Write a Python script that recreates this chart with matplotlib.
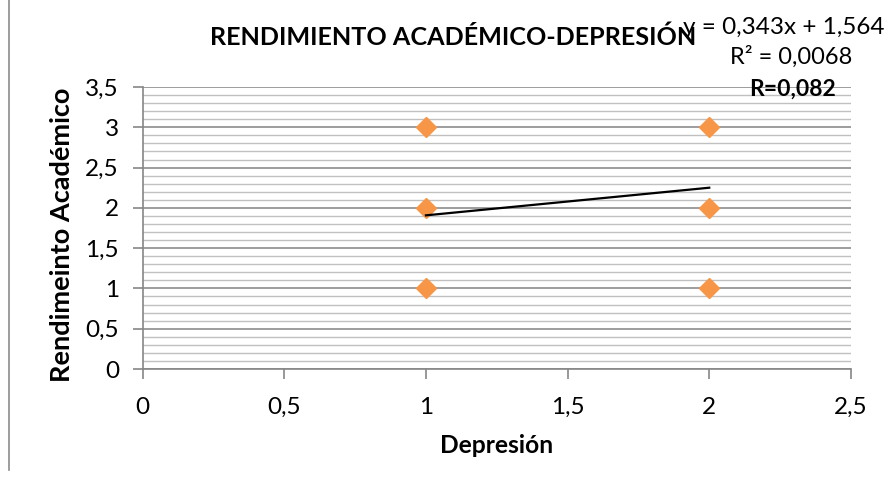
import matplotlib
matplotlib.use("Agg")
import matplotlib.pyplot as plt
from matplotlib.ticker import MultipleLocator, FuncFormatter
import numpy as np

depresion = [1, 1, 1, 2, 2, 2]
rendimiento = [1, 2, 3, 1, 2, 3]
slope = 0.343
intercept = 1.564
trend_x = [1, 2]
title = "RENDIMIENTO ACADÉMICO-DEPRESIÓN"
eq_text = "y = 0,343x + 1,564"
r2_text = "R² = 0,0068"
r_text = "R=0,082"

plt.rcParams['font.family'] = ['Lato', 'DejaVu Sans']

W, H = 887, 486
fig = plt.figure(figsize=(W/100, H/100), dpi=100)
x0, x1, y0, y1 = 142.6, 850.9, 369, 87
ax = fig.add_axes([x0/W, 1 - y0/H, (x1-x0)/W, (y0-y1)/H])

ax.set_xlim(0, 2.5)
ax.set_ylim(0, 3.5)
ax.yaxis.set_major_locator(MultipleLocator(0.5))
ax.yaxis.set_minor_locator(MultipleLocator(0.1))
ax.xaxis.set_major_locator(MultipleLocator(0.5))
fmt = FuncFormatter(lambda v, p: (f"{v:g}").replace('.', ','))
ax.xaxis.set_major_formatter(fmt)
ax.yaxis.set_major_formatter(fmt)

ax.grid(which='major', axis='y', color='#8c8c8c', lw=1.2)
ax.grid(which='minor', axis='y', color='#c0c0c0', lw=1.0)
ax.set_axisbelow(True)
for s in ['top', 'right']:
    ax.spines[s].set_visible(False)
for s in ['left', 'bottom']:
    ax.spines[s].set_color('#868686')
    ax.spines[s].set_linewidth(1.2)
ax.tick_params(which='major', length=7, color='#868686', width=1.2, labelsize=17.5)
ax.tick_params(axis='y', which='minor', length=0)
ax.tick_params(axis='y', pad=10)
ax.tick_params(axis='x', pad=13)

ax.plot(depresion, rendimiento, linestyle='none', marker='D', markersize=10.5,
        color='#F79646', zorder=3, clip_on=False)
tx = np.array(trend_x, dtype=float)
ax.plot(tx, slope * tx + intercept, color='black', lw=1.6, zorder=4)

fig.text(210/W, 1 - 37/H, title, ha='left', va='center', fontsize=18.1, fontweight='bold')
fig.text(885/W, 1 - 27/H, eq_text, ha='right', va='center', fontsize=17.5)
fig.text(852/W, 1 - 57/H, r2_text, ha='right', va='center', fontsize=17)
fig.text(836/W, 1 - 89/H, r_text, ha='right', va='center', fontsize=16.5, fontweight='bold')

ax.set_xlabel("Depresión", fontsize=17.7, fontweight='bold', va='center')
ax.xaxis.set_label_coords((497 - x0)/(x1 - x0), (y0 - 445)/(y0 - y1))
ax.set_ylabel("Rendimeinto Académico", fontsize=19.5, fontweight='bold', va='center')
ax.yaxis.set_label_coords((62 - x0)/(x1 - x0), (y0 - 235)/(y0 - y1))

fig.add_artist(plt.Line2D([9/W, 9/W], [1 - 470/H, 1.0], color='#8c8c8c', lw=1.2))

fig.savefig("out.png", dpi=100)
